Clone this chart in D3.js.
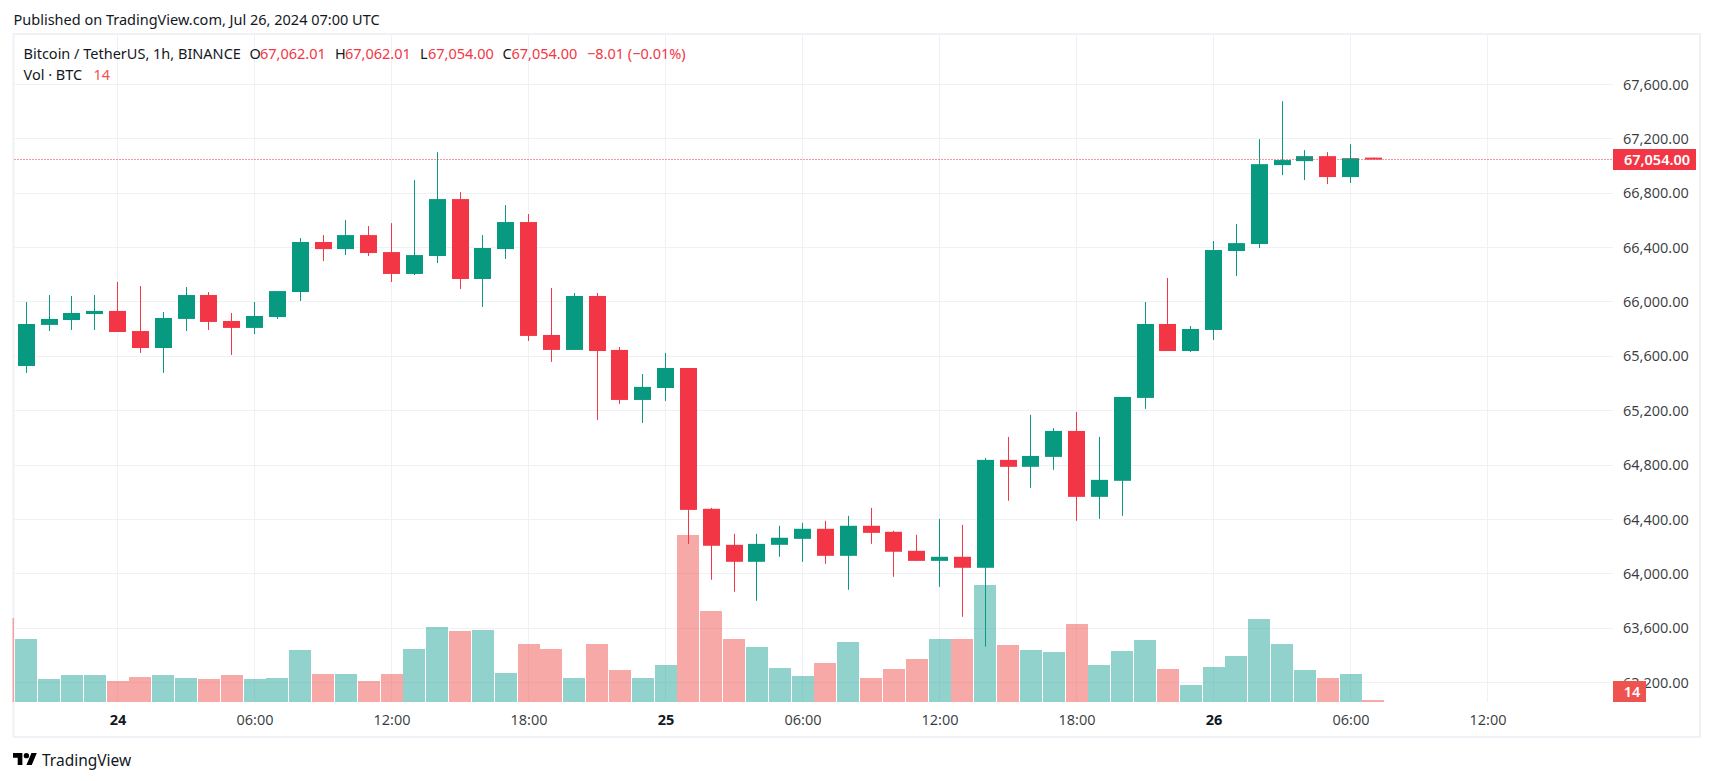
<!DOCTYPE html>
<html>
<head>
<meta charset="utf-8">
<script src="https://cdn.jsdelivr.net/npm/d3@7"></script>
<style>
   html, body { margin: 0; background: #fff; }
   svg { display: block; }
   text { font-family: "Noto Sans", sans-serif; }
</style>
</head>
<body>
<svg></svg>
<script>
const START_TIME = Date.UTC(2024, 6, 23, 20);
const HOUR = 3600000;

const opens = [65529,65831,65867,65911,65934,65786,65661,65875,66051,65860,65809,65889,66073,66441,66389,66492,66367,66206,66338,66757,66169,66389,66588,65757,65647,66044,65647,65279,65367,65514,64478,64213,64088,64213,64257,64331,64132,64353,64309,64169,64095,64125,64044,64838,64787,64860,65051,64566,64684,65294,65838,65639,65794,66375,66426,67007,67036,67073,66919,67062.01];
const highs = [66000,66051,66044,66051,66147,66117,65926,66110,66073,65919,66000,66080,66470,66492,66603,66558,66580,66897,67102,66808,66492,66713,66647,66103,66066,66066,65669,65470,65625,65514,64485,64294,64294,64353,64375,64390,64426,64485,64316,64287,64404,64360,64853,65007,65169,65073,65191,65007,65301,66000,66176,65823,66448,66573,67198,67477,67117,67102,67161,67062.01];
const lows = [65478,65786,65794,65794,65779,65625,65478,65786,65794,65610,65764,65875,66007,66301,66345,66338,66147,66198,66286,66095,65963,66316,65713,65559,65647,65132,65250,65110,65272,64220,63956,63868,63801,64125,64088,64073,63882,64220,63978,64095,63904,63684,63463,64537,64632,64765,64390,64404,64426,65213,65639,65632,65720,66191,66397,66933,66897,66867,66875,67054];
const closes = [65838,65875,65919,65934,65779,65661,65882,66051,65853,65809,65897,66080,66441,66389,66492,66360,66206,66345,66757,66169,66397,66588,65750,65647,66044,65639,65279,65375,65514,64470,64206,64088,64220,64265,64331,64132,64353,64301,64162,64095,64125,64044,64838,64787,64867,65051,64566,64691,65301,65838,65639,65801,66382,66433,67014,67044,67073,66919,67058,67054];
const volumes = [1008,368,432,432,336,400,432,384,368,432,368,384,832,448,448,336,448,848,1200,1136,1152,464,928,848,384,928,512,384,592,2672,1456,1008,880,544,416,624,960,384,528,688,1008,1008,1872,912,832,800,1248,592,816,992,528,272,560,736,1328,928,512,384,448,14];
const prevVolume = 1344;

const priceTicks = [67600,67200,66800,66400,66000,65600,65200,64800,64400,64000,63600,63200];
const timeTicks = [
   [Date.UTC(2024, 6, 24, 0), "24"],
   [Date.UTC(2024, 6, 24, 6), "06:00"],
   [Date.UTC(2024, 6, 24, 12), "12:00"],
   [Date.UTC(2024, 6, 24, 18), "18:00"],
   [Date.UTC(2024, 6, 25, 0), "25"],
   [Date.UTC(2024, 6, 25, 6), "06:00"],
   [Date.UTC(2024, 6, 25, 12), "12:00"],
   [Date.UTC(2024, 6, 25, 18), "18:00"],
   [Date.UTC(2024, 6, 26, 0), "26"],
   [Date.UTC(2024, 6, 26, 6), "06:00"],
   [Date.UTC(2024, 6, 26, 12), "12:00"]
];
const lastPrice = 67054;
const lastVolume = 14;

const UP = "#089981";
const DOWN = "#f23645";
const VOL_UP = "#26a69a";
const VOL_DOWN = "#ef5350";
const GRID = "#f0f1f5";
const BORDER = "#f0f1f7";
const TEXT = "#131722";
const FONT_SIZE = 14.5;

const width = 1713;
const height = 781;
const paneLeft = 14.5;
const paneRight = 1613;
const paneTop = 35;
const paneBottom = 702;
const frameBottom = 737;
const frameRight = 1700;

const svg = d3.select("svg").attr("width", width).attr("height", height);

const x = d3.scaleUtc()
   .domain([Date.UTC(2024, 6, 24, 0), Date.UTC(2024, 6, 26, 12)])
   .range([117.5, 1487.5]);
const y = d3.scaleLinear().domain([67600, 63200]).range([84.5, 682.5]);
const vol = d3.scaleLinear().domain([0, 2672]).range([paneBottom, paneBottom - 167]);

const candles = opens.map((o, i) => ({
   time: START_TIME + i * HOUR,
   open: o, high: highs[i], low: lows[i], close: closes[i], volume: volumes[i]
}));
const volumeBars = [{ time: START_TIME - HOUR, open: 1, close: 0, volume: prevVolume }, ...candles];
const snap = v => Math.floor(v) + 0.5;

svg.append("rect").attr("width", width).attr("height", height).attr("fill", "#fff");

// frame
svg.append("rect")
   .attr("x", 13.5).attr("y", 34)
   .attr("width", frameRight - 13.5).attr("height", frameBottom - 34)
   .attr("fill", "none").attr("stroke", BORDER).attr("stroke-width", 2);

svg.append("clipPath").attr("id", "pane").append("rect")
   .attr("x", 12.5).attr("y", paneTop)
   .attr("width", paneRight - 12.5).attr("height", paneBottom - paneTop);

// grid
const grid = svg.append("g");
grid.selectAll("line.h").data(priceTicks).enter().append("line")
   .attr("x1", paneLeft).attr("x2", paneRight)
   .attr("y1", d => snap(y(d))).attr("y2", d => snap(y(d)))
   .attr("stroke", GRID);
grid.selectAll("line.v").data(timeTicks).enter().append("line")
   .attr("x1", d => snap(x(d[0]))).attr("x2", d => snap(x(d[0])))
   .attr("y1", paneTop).attr("y2", paneBottom)
   .attr("stroke", GRID);

const pane = svg.append("g").attr("clip-path", "url(#pane)");

// volume
pane.selectAll("rect.vol").data(volumeBars).enter().append("rect")
   .attr("x", d => Math.round(x(d.time) - 10.9))
   .attr("width", 22)
   .attr("y", d => Math.round(Math.min(vol(d.volume), paneBottom - 2)))
   .attr("height", d => paneBottom - Math.round(Math.min(vol(d.volume), paneBottom - 2)))
   .attr("fill", d => d.close < d.open ? VOL_DOWN : VOL_UP)
   .attr("fill-opacity", 0.5);

// last price line
svg.append("line")
   .attr("x1", paneLeft).attr("x2", paneRight)
   .attr("y1", 159.5).attr("y2", 159.5)
   .attr("stroke", DOWN).attr("stroke-width", 1.2).attr("stroke-dasharray", "1 2");

// candles
pane.selectAll("line.wick").data(candles).enter().append("line")
   .attr("x1", d => snap(x(d.time))).attr("x2", d => snap(x(d.time)))
   .attr("y1", d => y(d.high)).attr("y2", d => y(d.low))
   .attr("stroke", d => d.close < d.open ? DOWN : UP);
pane.selectAll("rect.body").data(candles).enter().append("rect")
   .attr("x", d => Math.round(x(d.time) - 8.5))
   .attr("width", 17)
   .attr("y", d => y(Math.max(d.open, d.close)))
   .attr("height", d => Math.max(2, y(Math.min(d.open, d.close)) - y(Math.max(d.open, d.close))))
   .attr("fill", d => d.close < d.open ? DOWN : UP);

// price axis
const priceAxis = d3.axisRight(y)
   .tickValues(priceTicks)
   .tickSize(0)
   .tickPadding(0)
   .tickFormat(d3.format(",.2f"));
const priceAxisG = svg.append("g")
   .attr("transform", `translate(1623,0)`)
   .call(priceAxis);
priceAxisG.select(".domain").remove();
priceAxisG.selectAll("text").attr("font-size", FONT_SIZE).attr("fill", TEXT).attr("fill-opacity", 0.85)
   .style("font-family", '"Noto Sans", sans-serif');

// time axis
const timeAxis = d3.axisBottom(x)
   .tickValues(timeTicks.map(d => d[0]))
   .tickSize(0)
   .tickPadding(0)
   .tickFormat(d => timeTicks.find(t => t[0] === +d)[1]);
const timeAxisG = svg.append("g")
   .attr("transform", `translate(0,${paneBottom + 13})`)
   .call(timeAxis);
timeAxisG.select(".domain").remove();
timeAxisG.selectAll("text").attr("font-size", FONT_SIZE).attr("fill", TEXT)
   .style("font-family", '"Noto Sans", sans-serif')
   .attr("font-weight", d => new Date(d).getUTCHours() === 0 ? 700 : 400)
   .attr("fill-opacity", d => new Date(d).getUTCHours() === 0 ? 1 : 0.85);

// price labels
const priceLabel = (yTop, w, color, label) => {
   svg.append("rect").attr("x", paneRight).attr("y", yTop).attr("width", w).attr("height", 21).attr("fill", color);
   svg.append("text")
      .attr("x", paneRight + w / 2 + 2.5).attr("y", yTop + 15.5)
      .attr("text-anchor", "middle").attr("font-size", FONT_SIZE).attr("font-weight", 600)
      .attr("fill", "#fff").text(label);
};
priceLabel(149, 83, DOWN, d3.format(",.2f")(lastPrice));
priceLabel(681, 33, VOL_DOWN, String(lastVolume));

// header texts
const label = (px, py, str, color, size) => svg.append("text")
   .attr("x", px).attr("y", py).attr("font-size", size || FONT_SIZE)
   .attr("fill", color).text(str);

label(13.5, 25, "Published on TradingView.com, Jul 26, 2024 07:00 UTC", TEXT);
label(23.5, 59, "Bitcoin / TetherUS, 1h, BINANCE", TEXT);
label(249.5, 59, "O", TEXT);
label(260, 59, "67,062.01", DOWN);
label(335, 59, "H", TEXT);
label(345, 59, "67,062.01", DOWN);
label(420, 59, "L", TEXT);
label(428, 59, "67,054.00", DOWN);
label(502.5, 59, "C", TEXT);
label(511.5, 59, "67,054.00", DOWN);
label(587, 59, "\u22128.01 (\u22120.01%)", DOWN);
label(23.5, 80, "Vol \u00b7 BTC", TEXT);
label(93.5, 80, "14", VOL_DOWN);

// logo
const logo = svg.append("g").attr("transform", "translate(13,750.3) scale(0.67)").attr("fill", "#000");
logo.append("path").attr("d", "M14 22H7V11H0V4h14v18zM28 22h-8l7.5-18h8L28 22z");
logo.append("circle").attr("cx", 20).attr("cy", 8).attr("r", 4);
label(42, 766, "TradingView", TEXT, 15.5);
</script>
</body>
</html>
